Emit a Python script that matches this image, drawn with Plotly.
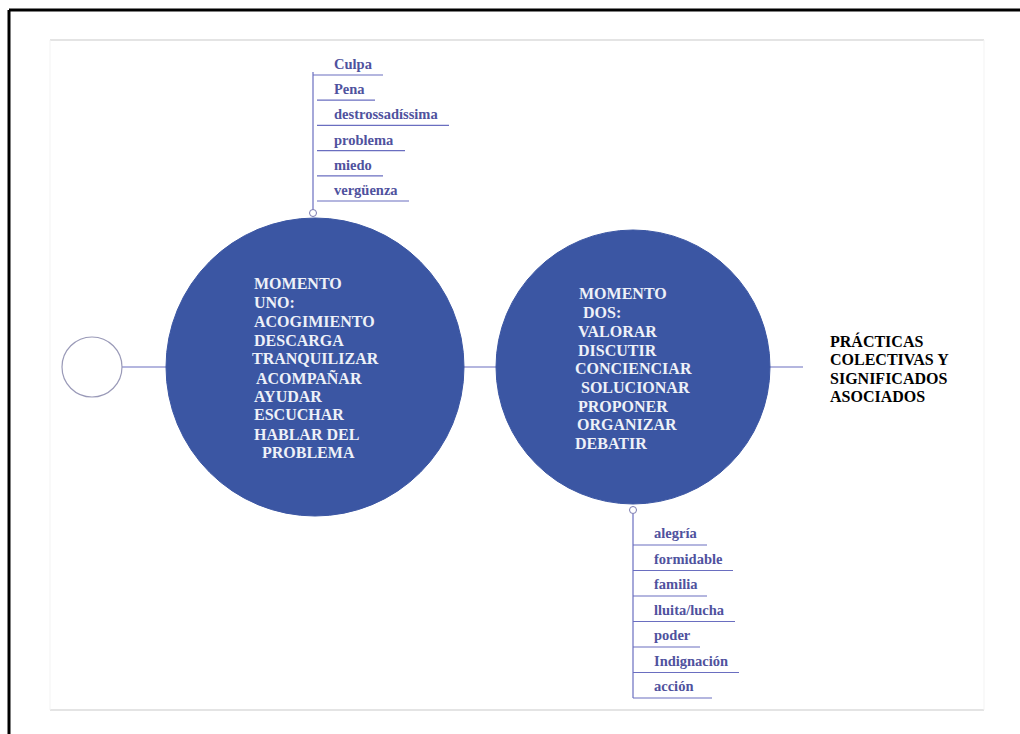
import plotly.graph_objects as go

# ---- data ----
top_words = ["Culpa", "Pena", "destrossadíssima", "problema", "miedo", "vergüenza"]
bottom_words = ["alegría", "formidable", "familia", "lluita/lucha", "poder", "Indignación", "acción"]
circle1_lines = ["MOMENTO", "UNO:", "ACOGIMIENTO", "DESCARGA", "TRANQUILIZAR",
                 "ACOMPAÑAR", "AYUDAR", "ESCUCHAR", "HABLAR DEL", "  PROBLEMA"]
circle2_lines = ["MOMENTO", " DOS:", "VALORAR", "DISCUTIR", "CONCIENCIAR",
                 " SOLUCIONAR", "PROPONER", "ORGANIZAR", "DEBATIR"]
right_lines = ["PRÁCTICAS", "COLECTIVAS Y", "SIGNIFICADOS", "ASOCIADOS"]

# ---- layout helpers (positions/styles) ----
W, H = 1020, 734
BLUE = "#3b56a3"
LINE = "#6a6ec0"
WORD = "#4f529e"
SERIF = "Liberation Serif, Times New Roman, serif"

top_rule_len = [70, 62, 136, 92, 70, 96]
bottom_rule_len = [74, 100, 74, 102, 67, 106, 79]
c1_x = [252, 252, 252, 252, 250, 254, 252, 252, 252, 252]
c1_y = [283, 302, 321, 340, 358, 378, 396, 414, 434, 452]
c2_x = [577, 577, 576, 576, 573, 575, 576, 575, 573]
c2_y = [293, 312, 331, 350, 368, 387, 406, 424, 443]

shapes = []
annotations = []

def line(x0, y0, x1, y1, color, width=1):
    shapes.append(dict(type="line", xref="x", yref="y", x0=x0, y0=y0, x1=x1, y1=y1,
                       line=dict(color=color, width=width)))

def circle(cx, cy, r, fill, lc, lw=1):
    shapes.append(dict(type="circle", xref="x", yref="y", x0=cx - r, y0=cy - r,
                       x1=cx + r, y1=cy + r, fillcolor=fill, line=dict(color=lc, width=lw)))

def text(x, y, s, color, size, anchor="left"):
    annotations.append(dict(x=x, y=y, xref="x", yref="y", text="<b>" + s + "</b>",
                            showarrow=False, xanchor=anchor, yanchor="middle",
                            font=dict(family=SERIF, size=size, color=color)))

# outer frame
line(9, 10, W + 5, 10, "black", 3)
line(9, 10, 9, H + 5, "black", 3)
# inner gray frame
line(50, 40, 984, 40, "#c9c9c9", 1)
line(50, 710, 984, 710, "#c9c9c9", 1)
line(50, 40, 50, 710, "#f3f3f3", 1)
line(984, 40, 984, 710, "#f3f3f3", 1)

# connectors
cy = 367
line(122, cy, 166, cy, LINE, 1.2)
line(464, cy, 498, cy, LINE, 1.2)
line(769, cy, 803, cy, LINE, 1.2)

# circles
circle(92, cy, 30, "white", "#9a9ab8", 1.2)
circle(315, cy, 149, BLUE, BLUE)
circle(633, cy, 137, BLUE, BLUE)

# top list
tx, t0, ts = 313, 64, 25.2
line(tx, 72, tx, 210, LINE, 1.2)
circle(tx, 213, 3.5, "white", "#7a7ab0", 1)
for i, w in enumerate(top_words):
    y = t0 + i * ts
    text(332, y, w, WORD, 14.5)
    line(tx + (0 if i == 0 else 4), y + 11, tx + top_rule_len[i], y + 11, LINE, 1.2)

# bottom list
bx, b0, bs = 633, 533, 25.5
line(bx, 514, bx, 698, LINE, 1.2)
circle(bx, 510, 3.5, "white", "#7a7ab0", 1)
for i, w in enumerate(bottom_words):
    y = b0 + i * bs
    text(652, y, w, WORD, 14.5)
    line(bx, y + 12, bx + bottom_rule_len[i], y + 12, LINE, 1.2)

# circle texts
for s, x, y in zip(circle1_lines, c1_x, c1_y):
    text(x, y, s.replace(" ", "&nbsp;"), "#eef1f8", 16)
for s, x, y in zip(circle2_lines, c2_x, c2_y):
    text(x, y, s.replace(" ", "&nbsp;"), "#eef1f8", 16)

# right text
for i, s in enumerate(right_lines):
    text(828, 341 + i * 18.5, s, "black", 16)

fig = go.Figure()
fig.add_trace(go.Scatter(x=[0, W], y=[0, H], mode="markers", marker=dict(opacity=0),
                         hoverinfo="skip", showlegend=False))
fig.update_layout(
    width=W, height=H, margin=dict(l=0, r=0, t=0, b=0),
    paper_bgcolor="white", plot_bgcolor="white",
    xaxis=dict(range=[0, W], visible=False, fixedrange=True),
    yaxis=dict(range=[H, 0], visible=False, fixedrange=True),
    shapes=shapes, annotations=annotations, showlegend=False,
)
fig.write_html("out.html", config={"displayModeBar": False},
               post_script="document.body.style.margin='0';document.body.style.overflow='hidden';")
